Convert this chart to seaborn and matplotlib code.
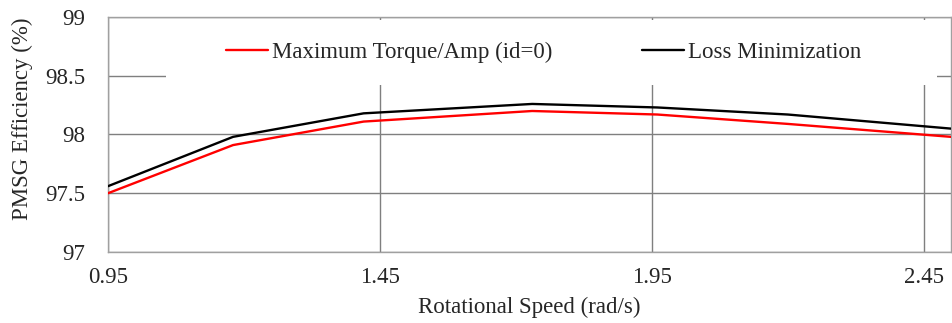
import matplotlib
matplotlib.use("Agg")
import matplotlib.pyplot as plt
from matplotlib.patches import Rectangle
import seaborn as sns
import pandas as pd

speed = [0.95, 1.18, 1.42, 1.73, 1.96, 2.20, 2.50]
mtpa = [97.50, 97.91, 98.11, 98.20, 98.17, 98.09, 97.98]
loss_min = [97.56, 97.98, 98.18, 98.26, 98.23, 98.17, 98.05]
series_names = ["Maximum Torque/Amp (id=0)", "Loss Minimization"]
series_colors = ["#ff0000", "#000000"]
x_ticks = [0.95, 1.45, 1.95, 2.45]
y_ticks = [97, 97.5, 98, 98.5, 99]
y_tick_labels = ["97", "97.5", "98", "98.5", "99"]

df = pd.DataFrame({
    "speed": speed * 2,
    "eff": mtpa + loss_min,
    "method": [series_names[0]] * len(speed) + [series_names[1]] * len(speed),
})

sns.set_style("white")
plt.rcParams["font.family"] = ["Liberation Serif", "DejaVu Serif"]
FS = 16.5
TXT = "#262626"

fig = plt.figure(figsize=(9.52, 3.23), dpi=100)
ax = fig.add_axes([0.1134, 0.2198, 0.8856, 0.7276])

sns.lineplot(data=df, x="speed", y="eff", hue="method",
             palette=dict(zip(series_names, series_colors)),
             linewidth=1.7, ax=ax, zorder=3, legend=True)

ax.set_xlim(0.95, 2.5)
ax.set_ylim(97, 99)
ax.set_xticks(x_ticks)
ax.set_xticklabels([f"{t:.2f}" for t in x_ticks])
ax.set_yticks(y_ticks)
ax.set_yticklabels(y_tick_labels)
ax.tick_params(axis="both", length=0, labelsize=FS, colors=TXT)
ax.tick_params(axis="y", pad=16.5)
ax.tick_params(axis="x", pad=11)

ax.grid(True, color="#7f7f7f", linewidth=1.0)
ax.set_axisbelow(True)
for s in ax.spines.values():
    s.set_color("#a0a0a0")
    s.set_linewidth(1.0)

# white box behind the legend (hides the gridlines there)
ax.add_patch(Rectangle((0.069, 0.7106), 0.9144, 0.275, transform=ax.transAxes,
                       facecolor="white", edgecolor="none", zorder=1))

ax.set_xlabel("Rotational Speed (rad/s)", fontsize=FS, color=TXT)
ax.set_ylabel("PMSG Efficiency (%)", fontsize=FS, color=TXT)
ax.xaxis.set_label_coords(0.5, -0.19)
ax.yaxis.set_label_coords(-0.089, 0.566)

handles, labels = ax.get_legend_handles_labels()
leg = ax.legend(handles, labels, loc="center left", bbox_to_anchor=(0.14, 0.851),
                ncol=2, frameon=False, fontsize=FS, handlelength=1.83,
                handletextpad=0.18, columnspacing=3.9, borderpad=0, borderaxespad=0)
for t in leg.get_texts():
    t.set_color(TXT)

fig.savefig("out.png", dpi=100)
